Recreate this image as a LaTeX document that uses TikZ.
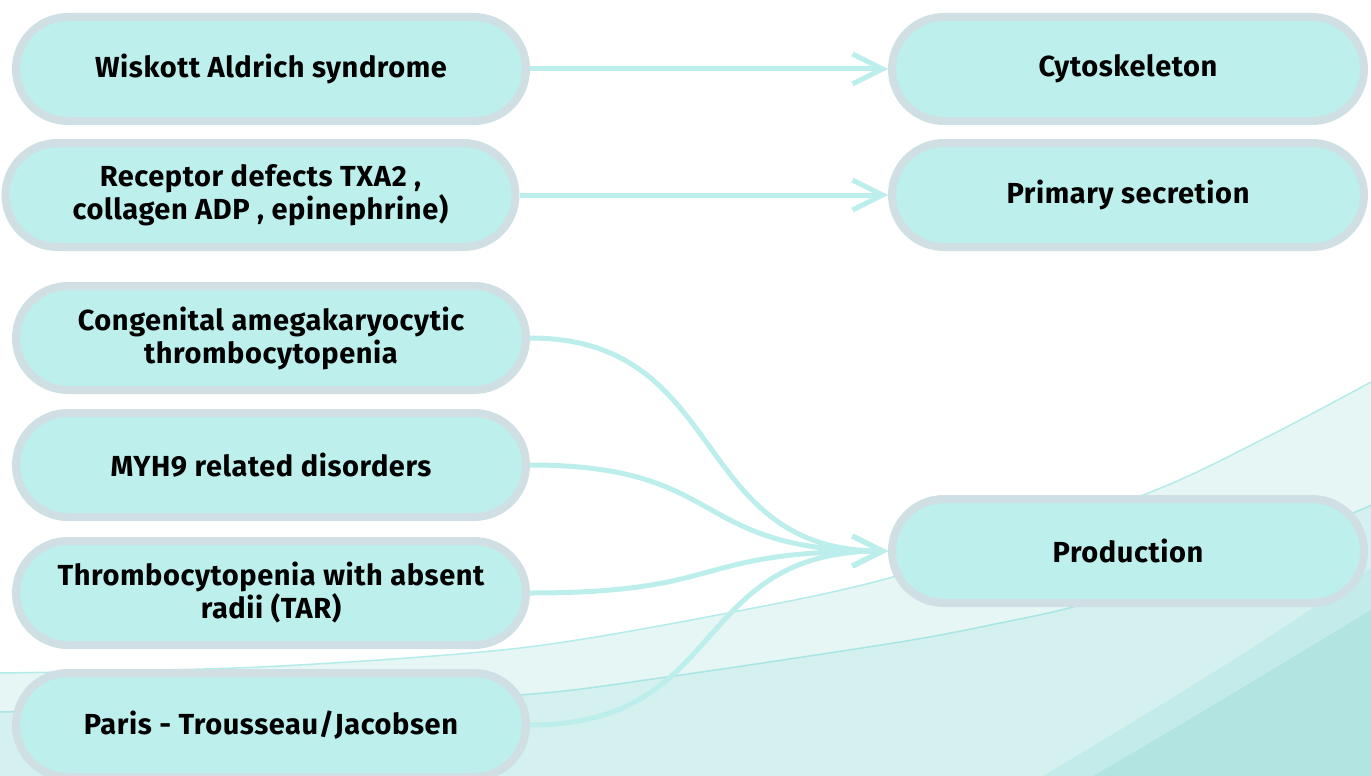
\documentclass[tikz,border=0pt]{standalone}
\usepackage{fontspec}
\setmainfont{Fira Sans}[LetterSpace=2]
\usetikzlibrary{arrows.meta}
\definecolor{boxc}{HTML}{BDEFEC}
\definecolor{bordc}{HTML}{CFDFE3}
\definecolor{arrc}{HTML}{BCEFEB}
\definecolor{lonec}{HTML}{E5F6F5}
\definecolor{lonel}{HTML}{B3ECE8}
\definecolor{ltwoc}{HTML}{D4F1F0}
\definecolor{ltwol}{HTML}{A8E6E3}
\definecolor{lthreec}{HTML}{C2EBE9}
\definecolor{lfourc}{HTML}{B2E5E2}
\tikzset{
  box/.style={draw=bordc, fill=boxc, line width=8pt, rounded corners=52pt,
    minimum width=510pt, minimum height=104pt, inner sep=0pt, align=center,
    text=black, font=\bfseries\fontsize{29}{33}\selectfont},
  rbox/.style={box, minimum width=472pt},
  conn/.style={draw=arrc, line width=5pt, -{Straight Barb[length=30pt,width=30pt]}},
}
\begin{document}
\begin{tikzpicture}[x=1pt,y=-1pt]
\useasboundingbox (0,0) rectangle (1371,776);
% background waves
\fill[lonec] plot[smooth] coordinates {(0,673) (260,667) (520,648) (733,612) (900,575) (1143,495) (1267,437) (1371,382)} -- (1371,776) -- (0,776) -- cycle;
\draw[lonel, line width=1.5pt] plot[smooth] coordinates {(0,673) (260,667) (520,648) (733,612) (900,575) (1143,495) (1267,437) (1371,382)};
\fill[ltwoc] plot[smooth] coordinates {(0,712) (270,706) (520,695) (660,678) (900,642) (1000,623) (1073,607) (1213,568) (1353,513) (1371,505)} -- (1371,776) -- (0,776) -- cycle;
\draw[ltwol, line width=1.5pt] plot[smooth] coordinates {(0,712) (270,706) (520,695) (660,678) (900,642) (1000,623) (1073,607) (1213,568) (1353,513) (1371,505)};
\fill[lthreec] (1043,776) .. controls (1150,712) and (1270,640) .. (1371,568) -- (1371,776) -- cycle;
\fill[lfourc] (1093,776) .. controls (1190,720) and (1280,665) .. (1371,610) -- (1371,776) -- cycle;
% nodes
\node[box] (w) at (271,69) {Wiskott Aldrich syndrome};
\node[box] (r) at (260.5,195) {Receptor defects TXA2 ,\\collagen ADP , epinephrine)};
\node[box] (c) at (271,338) {Congenital amegakaryocytic\\thrombocytopenia};
\node[box] (m) at (271,465) {MYH9 related disorders};
\node[box] (t) at (271,593) {Thrombocytopenia with absent\\radii (TAR)};
\node[box] (p) at (271,725) {Paris - Trousseau/Jacobsen};
\node[rbox] (cy) at (1128,69) {Cytoskeleton};
\node[rbox] (ps) at (1128,195) {Primary secretion};
\node[rbox] (pr) at (1128,551) {Production};
% connectors
\draw[conn] (w.east) -- (cy.west);
\draw[conn] (r.east) -- (r.east -| ps.west);
\draw[conn] (c.east) .. controls +(200,0) and +(-200,0) .. (pr.west);
\draw[conn] (m.east) .. controls +(200,0) and +(-200,0) .. (pr.west);
\draw[conn] (t.east) .. controls +(200,0) and +(-200,0) .. (pr.west);
\draw[conn] (p.east) .. controls +(200,0) and +(-200,0) .. (pr.west);
\end{tikzpicture}
\end{document}
